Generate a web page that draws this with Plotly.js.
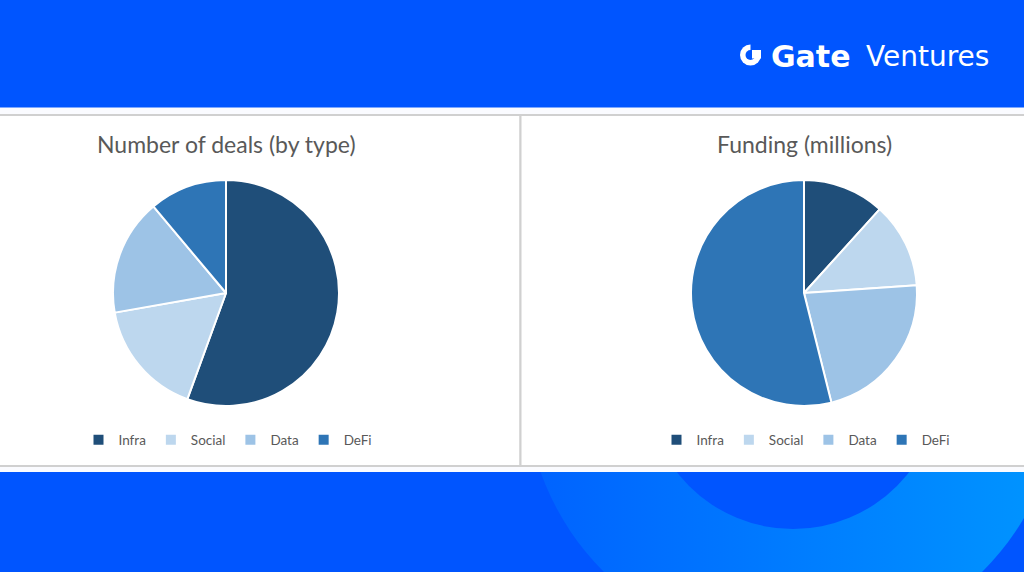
<!DOCTYPE html>
<html>
<head>
<meta charset="utf-8">
<script src="https://cdn.plot.ly/plotly-3.0.1.min.js"></script>
<style>
html,body{margin:0;padding:0;background:#0055FF;}
#chart{width:1024px;height:572px;}
</style>
</head>
<body>
<div id="chart"></div>
<script>
// ---- data ----
const categories = ["Infra", "Social", "Data", "DeFi"];
const dealCounts = [10, 3, 3, 2];
const fundingMillions = [11.7, 12.2, 22.2, 53.9];
const titles = ["Number of deals (by type)", "Funding (millions)"];
const sliceColors = ["#1F4E79", "#BDD7EE", "#9DC3E6", "#2E75B6"];

// ---- helpers (page pixels -> paper coords) ----
const W = 1024, H = 572;
const px = x => x / W;
const py = y => 1 - y / H;

// decorative ring in the bottom band (SVG background image)
const ringSvg =
  '<svg xmlns="http://www.w3.org/2000/svg" width="1024" height="572" viewBox="0 0 1024 572">' +
  '<defs><linearGradient id="g" x1="0" y1="0" x2="1" y2="0">' +
  '<stop offset="0" stop-color="#0062FF"/><stop offset="1" stop-color="#0096FF"/></linearGradient></defs>' +
  '<circle cx="793" cy="382" r="268" fill="url(#g)"/>' +
  '<circle cx="793" cy="382" r="147" fill="#0055FF"/></svg>';
const ringSrc = "data:image/svg+xml;charset=utf-8," + encodeURIComponent(ringSvg);

const font = "Lato, 'Open Sans', sans-serif";
const BLUE = "#0055FF";

const traces = [
  {
    type: "pie",
    labels: categories,
    values: dealCounts,
    sort: false,
    direction: "clockwise",
    rotation: 0,
    textinfo: "none",
    hoverinfo: "label+value+percent",
    marker: { colors: sliceColors, line: { color: "#FFFFFF", width: 2 } },
    domain: { x: [px(113), px(339)], y: [py(406), py(180)] },
    legend: "legend",
    legendgroup: "deals",
    showlegend: true
  },
  {
    type: "pie",
    labels: categories,
    values: fundingMillions,
    sort: false,
    direction: "clockwise",
    rotation: 0,
    textinfo: "none",
    hoverinfo: "label+value+percent",
    marker: { colors: sliceColors, line: { color: "#FFFFFF", width: 2 } },
    domain: { x: [px(691), px(917)], y: [py(406), py(180)] },
    legend: "legend2",
    legendgroup: "funding",
    showlegend: true
  }
];

const legendCommon = {
  orientation: "h",
  xanchor: "center",
  yanchor: "middle",
  font: { family: font, size: 13.5, color: "#595959" },
  bgcolor: "rgba(0,0,0,0)",
  itemwidth: 30,
  tracegroupgap: 0,
  traceorder: "normal"
};

// logo icon helper: pixel-sized shapes anchored at icon centre
const iconCx = px(750.5), iconCy = py(55);
function iconShape(type, x0, x1, y0, y1, color) {
  return { type: type, xref: "paper", yref: "paper", layer: "above",
    xsizemode: "pixel", ysizemode: "pixel", xanchor: iconCx, yanchor: iconCy,
    x0: x0, x1: x1, y0: y0, y1: y1, fillcolor: color, line: { width: 0 } };
}

const shapes = [
  // light strip between top band and panels
  { type: "rect", xref: "paper", yref: "paper", x0: 0, x1: 1, y0: py(472), y1: py(107.5),
    fillcolor: "#FAFBFF", line: { width: 0 }, layer: "below" },
  // left panel
  { type: "rect", xref: "paper", yref: "paper", x0: px(-2), x1: px(520.5), y0: py(466), y1: py(115),
    fillcolor: "#FFFFFF", line: { color: "#D0D0D0", width: 2 }, layer: "below" },
  // right panel
  { type: "rect", xref: "paper", yref: "paper", x0: px(520.5), x1: px(1026), y0: py(466), y1: py(115),
    fillcolor: "#FFFFFF", line: { color: "#D0D0D0", width: 2 }, layer: "below" },
  // logo icon
  iconShape("circle", -10.5, 10.5, -10.5, 10.5, "#FFFFFF"),
  iconShape("circle", -5, 5, -5, 5, BLUE),
  iconShape("rect", 0, 11.5, 0, 11.5, BLUE),
  iconShape("rect", 1.5, 10.5, -3.5, 5, "#FFFFFF")
];

const annotations = [
  { text: titles[0], xref: "paper", yref: "paper", x: px(226), y: py(144),
    xanchor: "center", yanchor: "middle", showarrow: false,
    font: { family: font, size: 23, color: "#595959" } },
  { text: titles[1], xref: "paper", yref: "paper", x: px(804), y: py(144),
    xanchor: "center", yanchor: "middle", showarrow: false,
    font: { family: font, size: 23, color: "#595959" } },
  { text: "Gate", xref: "paper", yref: "paper", x: px(853), y: py(56),
    xanchor: "right", yanchor: "middle", showarrow: false,
    font: { family: "'DejaVu Sans', sans-serif", size: 30, weight: "bold", color: "#FFFFFF" } },
  { text: "Ventures", xref: "paper", yref: "paper", x: px(991), y: py(56),
    xanchor: "right", yanchor: "middle", showarrow: false,
    font: { family: "'DejaVu Sans', sans-serif", size: 28, color: "#FFFFFF" } }
];

const layout = {
  width: W,
  height: H,
  margin: { l: 0, r: 0, t: 0, b: 0, pad: 0 },
  paper_bgcolor: BLUE,
  plot_bgcolor: "rgba(0,0,0,0)",
  images: [{ source: ringSrc, xref: "paper", yref: "paper", x: 0, y: 1, sizex: 1, sizey: 1,
             xanchor: "left", yanchor: "top", sizing: "stretch", layer: "below" }],
  shapes: shapes,
  annotations: annotations,
  legend: Object.assign({}, legendCommon, { x: px(228), y: py(440) }),
  legend2: Object.assign({}, legendCommon, { x: px(806), y: py(440) }),
  font: { family: font }
};

Plotly.newPlot("chart", traces, layout, { displayModeBar: false, staticPlot: true });
</script>
</body>
</html>
